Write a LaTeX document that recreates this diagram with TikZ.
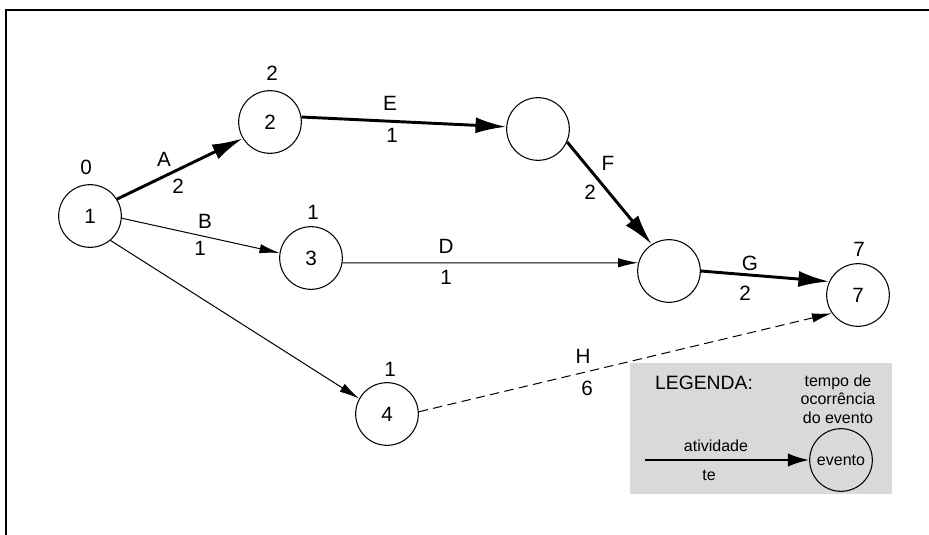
\documentclass[tikz,border=0pt]{standalone}
\usepackage{fontspec}
\setmainfont{Liberation Sans}
\usetikzlibrary{arrows.meta}
\begin{document}
\begin{tikzpicture}[x=0.75pt,y=-0.75pt,
  ev/.style={circle,draw,line width=0.8pt,minimum size=47pt,inner sep=0pt,font=\fontsize{15.5}{18}\selectfont},
  lbl/.style={font=\fontsize{15.5}{18}\selectfont,inner sep=0pt},
  small/.style={font=\fontsize{12}{14}\selectfont,inner sep=0pt},
  thin/.style={line width=0.75pt,-{Latex[length=15pt,width=7pt]}},
  crit/.style={line width=2.2pt,-{Latex[length=23pt,width=12pt]}}]
\useasboundingbox (0,0) rectangle (929,535);
% frame
\draw[line width=2pt] (929,10) -- (6,10) -- (6,535);
% events
\node[ev] (n1) at (90,216) {1};
\node[ev] (n2) at (270,122) {2};
\node[ev] (n3) at (311,258) {3};
\node[ev] (n4) at (387,414) {4};
\node[ev] (n5) at (538,129) {};
\node[ev] (n6) at (669,271) {};
\node[ev] (n7) at (858,295) {7};
% occurrence times
\node[lbl] (t1) at (86,167) {0};
\node[lbl] (t2) at (272,73) {2};
\node[lbl] (t3) at (313,212) {1};
\node[lbl] (t4) at (390,369) {1};
\node[lbl] (t7) at (859,249) {7};
% activities
\draw[crit] (n1.32) -- (n2.211);
\draw[thin] (n1.-4) -- (n3.171);
\draw[thin] (n1.-50) -- (n4.151);
\draw[crit] (n2.9) -- (n5.176);
\draw[thin] (n3.-9) -- (n6.165);
\draw[crit] (n5.-24) -- (n6.123);
\draw[crit] (n6.0) -- (n7.155);
\draw[thin,dash pattern=on 7pt off 4pt] (n4.4) -- (n7.215);
% activity labels
\node[lbl] (la) at (164,159) {A};
\node[lbl] (da) at (178,186) {2};
\node[lbl] (lb) at (205,221) {B};
\node[lbl] (db) at (200,248) {1};
\node[lbl] (ld) at (446,246) {D};
\node[lbl] (dd) at (446,277) {1};
\node[lbl] (le) at (390,103) {E};
\node[lbl] (de) at (392,135) {1};
\node[lbl] (lf) at (608,163) {F};
\node[lbl] (df) at (590,192) {2};
\node[lbl] (lg) at (750,263) {G};
\node[lbl] (dg) at (745,293) {2};
\node[lbl] (lh) at (583,356) {H};
\node[lbl] (dh) at (587,388) {6};
% legend
\fill[black!15] (630,363) rectangle (892,494);
\node[inner sep=0pt,font=\fontsize{14.5}{17}\selectfont] (leg) at (704,383) {LEGENDA:};
\node[small,align=center] (tocc) at (838,399) {tempo de\\ocorrência\\do evento};
\node[circle,draw,line width=0.8pt,minimum size=47pt,inner sep=0pt,font=\fontsize{12}{14}\selectfont] (lev) at (841,460) {evento};
\coordinate (lstart) at (645,460);
\draw[line width=1.5pt,-{Latex[length=16pt,width=10pt]}] (lstart) -- (lev.180);
\node[small] (lat) at (716,446) {atividade};
\node[small] (lte) at (709,475) {te};
\end{tikzpicture}
\end{document}
